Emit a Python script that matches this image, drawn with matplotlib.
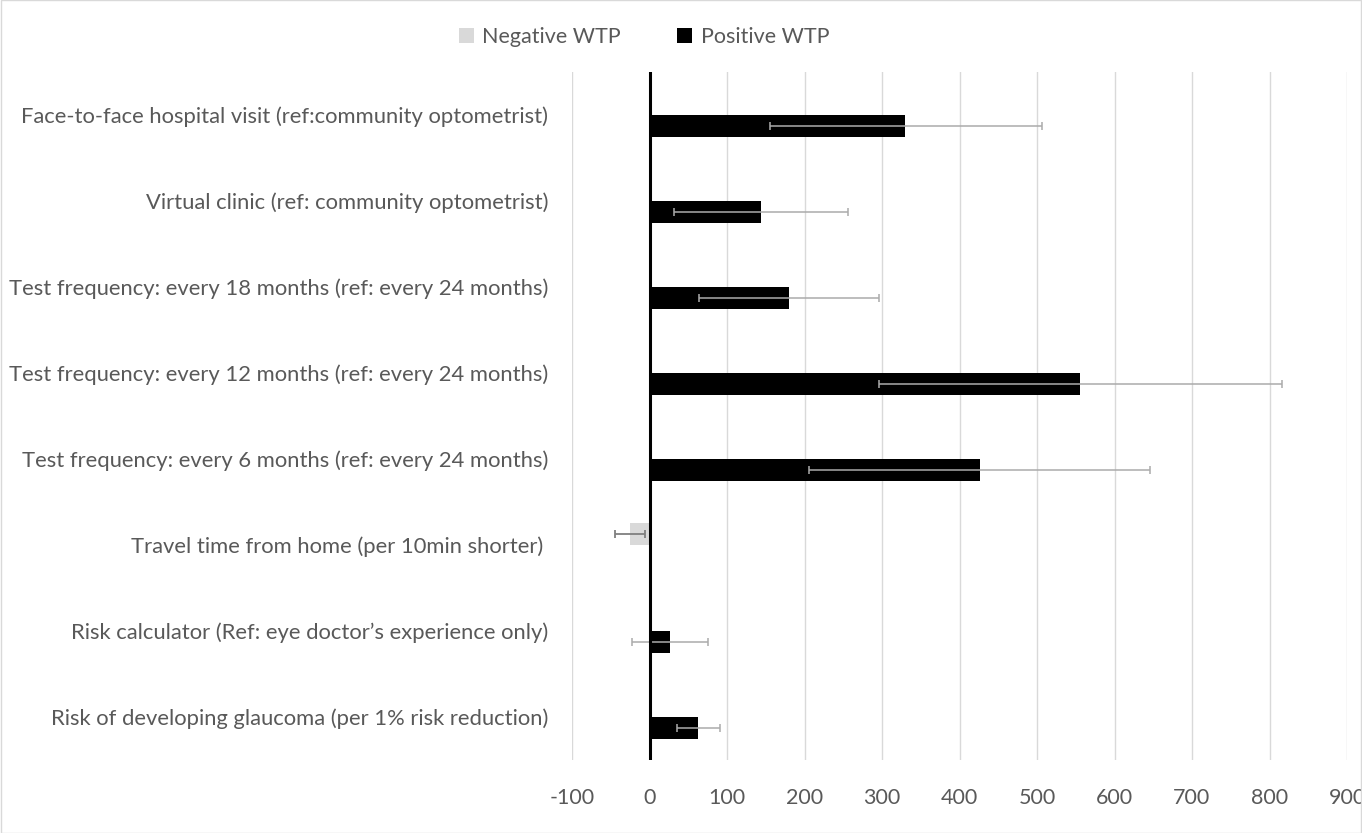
import numpy as np
import matplotlib
matplotlib.use("Agg")
import matplotlib.pyplot as plt
from matplotlib.patches import Rectangle

plt.rcParams['font.family'] = ['Lato', 'DejaVu Sans']

# Data (top to bottom as in the chart)
categories = [
    "Face-to-face hospital visit (ref:community optometrist)",
    "Virtual clinic (ref: community optometrist)",
    "Test frequency: every 18 months (ref: every 24 months)",
    "Test frequency: every 12 months (ref: every 24 months)",
    "Test frequency: every 6 months (ref: every 24 months)",
    "Travel time from home (per 10min shorter) ",
    "Risk calculator (Ref: eye doctor\u2019s experience only)",
    "Risk of developing glaucoma (per 1% risk reduction)",
]
negative_wtp = [np.nan, np.nan, np.nan, np.nan, np.nan, -25, np.nan, np.nan]
positive_wtp = [330, 144, 180, 556, 426, np.nan, 26, 63]
ci_low = [156, 32, 64, 296, 206, -44, -22, 35]
ci_high = [506, 256, 296, 816, 646, -6, 75, 91]
xticks = list(range(-100, 1000, 100))

text_col = '#595959'
grid_col = '#d9d9d9'

fig = plt.figure(figsize=(13.62, 8.33), dpi=100)
ax = fig.add_axes([572 / 1362, 1 - 760 / 833, 775 / 1362, 688 / 833])

y = np.arange(len(categories))
h = 22 / 86
neg = np.array(negative_wtp, dtype=float)
pos = np.array(positive_wtp, dtype=float)
lo = np.array(ci_low, dtype=float)
hi = np.array(ci_high, dtype=float)

ax.barh(y - h / 2, neg, height=h, color='#d9d9d9', label='Negative WTP', zorder=2)
ax.barh(y + h / 2, pos, height=h, color='black', label='Positive WTP', zorder=2)

# error bars
m_neg = ~np.isnan(neg)
ax.errorbar(neg[m_neg], y[m_neg] - h / 2,
            xerr=[neg[m_neg] - lo[m_neg], hi[m_neg] - neg[m_neg]],
            fmt='none', ecolor='#7f7f7f', elinewidth=1.3, capsize=3, capthick=1.3, zorder=3)
m_pos = ~np.isnan(pos)
ax.errorbar(pos[m_pos], y[m_pos] + h / 2,
            xerr=[pos[m_pos] - lo[m_pos], hi[m_pos] - pos[m_pos]],
            fmt='none', ecolor='#ababab', elinewidth=1.1, capsize=3, capthick=1.1, zorder=3)

ax.axvline(0, color='black', lw=2.2, zorder=4)

ax.set_xlim(-100, 900)
ax.set_ylim(len(categories) - 0.5, -0.5)
ax.set_xticks(xticks)
ax.set_xticklabels([str(t) for t in xticks])
ax.set_yticks(y)
ax.set_yticklabels(categories)
ax.tick_params(axis='both', length=0, colors=text_col)
ax.tick_params(axis='y', pad=17, labelsize=15.8)
ax.tick_params(axis='x', pad=20, labelsize=15.5)
ax.grid(axis='x', color=grid_col, lw=1, zorder=0)
ax.set_axisbelow(True)
for s in ax.spines.values():
    s.set_visible(False)

leg = fig.legend(loc='center', bbox_to_anchor=(644 / 1362, 1 - 37 / 833), ncol=2,
                 frameon=False, fontsize=15.5, labelcolor=text_col,
                 handlelength=0.7, handleheight=0.7, handletextpad=0.4, columnspacing=2.6)

# chart border
fig.patches.append(Rectangle((0.0005, 0.0005), 0.999, 0.999, transform=fig.transFigure,
                             fill=False, edgecolor=grid_col, lw=1))

fig.savefig('out.png', dpi=100)
